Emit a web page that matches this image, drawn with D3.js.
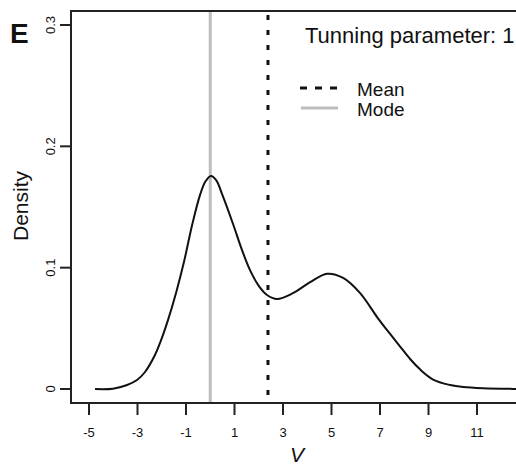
<!DOCTYPE html>
<html>
<head>
<meta charset="utf-8">
<script src="https://cdn.jsdelivr.net/npm/d3@7"></script>
<style>
  body { margin: 0; background: #fff; }
  text { font-family: "Liberation Sans", Arial, sans-serif; fill: #111; }
</style>
</head>
<body>
<div id="chart"></div>
<script>
// density curve
var vValues = [-4.75, -4.01, -3.43, -3.02, -2.69, -2.28, -2.07, -1.74, -1.4, -1.08, -0.75, -0.42, -0.2, 0.03,
               0.25, 0.48, 0.94, 1.3, 1.64, 2.0, 2.34, 2.75, 3.41, 4.12, 4.82, 5.48, 6.18, 6.88, 7.35, 7.83,
               8.25, 8.65, 9.19, 9.89, 10.43, 11.26, 12.49, 13.2];
var densityValues = [0, 0.0003, 0.0033, 0.0074, 0.014, 0.028, 0.038, 0.057, 0.080, 0.105, 0.135, 0.160, 0.171, 0.1756,
                     0.172, 0.161, 0.136, 0.115, 0.098, 0.085, 0.0775, 0.0742, 0.079, 0.088, 0.095, 0.0915, 0.079, 0.0593, 0.047, 0.035,
                     0.0245, 0.0162, 0.0078, 0.0033, 0.0016, 0.0006, 0.0001, 0];
var meanValue = 2.38;
var modeValue = 0;
var xTicks = [-5, -3, -1, 1, 3, 5, 7, 9, 11];
var yTicks = [0, 0.1, 0.2, 0.3];
var yTickLabels = ["0", "0.1", "0.2", "0.3"];
var legendLabels = ["Mean", "Mode"];
var titleText = "Tunning parameter: 1";

function init() {
    var w = 516;
    var h = 465;
    var left = 71, top = 11, bottom = 403, right = 523;

    var xScale = d3.scaleLinear()
                   .domain([-5, 11])
                   .range([89, 477]);

    var yScale = d3.scaleLinear()
                   .domain([0, 0.3])
                   .range([389, 25]);

    var svg = d3.select("#chart")
                .append("svg")
                .attr("width", w)
                .attr("height", h);

    // plot box (right side runs off the picture)
    svg.append("rect")
       .attr("x", left)
       .attr("y", top)
       .attr("width", right - left)
       .attr("height", bottom - top)
       .attr("fill", "none")
       .attr("stroke", "#222")
       .attr("stroke-width", 2);

    // x ticks
    svg.selectAll("line.xt")
       .data(xTicks)
       .enter()
       .append("line")
       .attr("class", "xt")
       .attr("x1", function(d) { return xScale(d); })
       .attr("x2", function(d) { return xScale(d); })
       .attr("y1", bottom)
       .attr("y2", bottom + 12)
       .attr("stroke", "#222")
       .attr("stroke-width", 2);

    svg.selectAll("text.xl")
       .data(xTicks)
       .enter()
       .append("text")
       .attr("class", "xl")
       .attr("x", function(d) { return xScale(d); })
       .attr("y", 437)
       .attr("text-anchor", "middle")
       .style("font-size", "13px")
       .text(function(d) { return d; });

    // y ticks
    svg.selectAll("line.yt")
       .data(yTicks)
       .enter()
       .append("line")
       .attr("class", "yt")
       .attr("x1", left - 11)
       .attr("x2", left)
       .attr("y1", function(d) { return yScale(d); })
       .attr("y2", function(d) { return yScale(d); })
       .attr("stroke", "#222")
       .attr("stroke-width", 2);

    svg.selectAll("text.yl")
       .data(yTicks)
       .enter()
       .append("text")
       .attr("class", "yl")
       .attr("transform", function(d) {
           return "translate(55," + yScale(d) + ") rotate(-90)";
       })
       .attr("text-anchor", "middle")
       .style("font-size", "13px")
       .text(function(d, i) { return yTickLabels[i]; });

    // mode and mean lines
    svg.append("line")
       .attr("x1", xScale(modeValue))
       .attr("x2", xScale(modeValue))
       .attr("y1", top + 1)
       .attr("y2", bottom - 1)
       .attr("stroke", "#bdbdbd")
       .attr("stroke-width", 3);

    svg.append("line")
       .attr("x1", xScale(meanValue))
       .attr("x2", xScale(meanValue))
       .attr("y1", top + 4)
       .attr("y2", bottom)
       .attr("stroke", "#111")
       .attr("stroke-width", 3)
       .attr("stroke-dasharray", "5,10");

    // density curve
    var pts = vValues.map(function(v, i) { return [v, densityValues[i]]; });
    var line = d3.line()
                 .x(function(d) { return xScale(d[0]); })
                 .y(function(d) { return yScale(d[1]); })
                 .curve(d3.curveCatmullRom.alpha(0.5));

    svg.append("path")
       .datum(pts)
       .attr("d", line)
       .attr("fill", "none")
       .attr("stroke", "#111")
       .attr("stroke-width", 2);

    // title + legend
    svg.append("text")
       .attr("x", 305)
       .attr("y", 43)
       .style("font-size", "22px")
       .text(titleText);

    svg.append("line")
       .attr("x1", 300).attr("x2", 338)
       .attr("y1", 88).attr("y2", 88)
       .attr("stroke", "#111")
       .attr("stroke-width", 3)
       .attr("stroke-dasharray", "7,8");

    svg.append("line")
       .attr("x1", 301).attr("x2", 338)
       .attr("y1", 108).attr("y2", 108)
       .attr("stroke", "#bdbdbd")
       .attr("stroke-width", 3);

    svg.selectAll("text.leg")
       .data(legendLabels)
       .enter()
       .append("text")
       .attr("class", "leg")
       .attr("x", 357)
       .attr("y", function(d, i) { return 96 + i * 20; })
       .style("font-size", "19px")
       .text(function(d) { return d; });

    // axis titles
    svg.append("text")
       .attr("transform", "translate(28,206) rotate(-90)")
       .attr("text-anchor", "middle")
       .style("font-size", "21px")
       .text("Density");

    svg.append("text")
       .attr("x", 297)
       .attr("y", 462)
       .attr("text-anchor", "middle")
       .style("font-size", "21px")
       .style("font-style", "italic")
       .text("V");

    svg.append("text")
       .attr("x", 10)
       .attr("y", 43)
       .style("font-size", "28px")
       .style("font-weight", "bold")
       .text("E");
}

window.onload = init;
</script>
</body>
</html>
